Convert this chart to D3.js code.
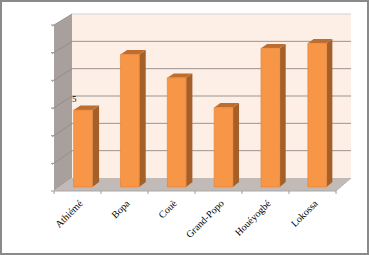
<!DOCTYPE html>
<html>
<head>
<meta charset="utf-8">
<script src="https://cdn.jsdelivr.net/npm/d3@7"></script>
<style>
  body { margin: 0; background: #fff; }
  svg { display: block; }
</style>
</head>
<body>
<div id="chart"></div>
<script>
const communes = ['Athiémé', 'Bopa', 'Couè', 'Grand-Popo', 'Houéyogbé', 'Lokossa'];
const values = [2.79, 4.81, 3.96, 2.88, 5.03, 5.21];
const yTicks = [0, 1, 2, 3, 4, 5, 6];

const w = 369,
      h = 255;

const svg = d3.select('#chart')
  .append('svg')
  .attr('width', w)
  .attr('height', h);

// back plane and front plane of the 3d box
const xBack = d3.scaleLinear().domain([0, communes.length]).range([72, 351]),
      xFront = d3.scaleLinear().domain([0, communes.length]).range([54, 336]),
      yBack = d3.scaleLinear().domain([0, 6]).range([178, 14]),
      yFront = d3.scaleLinear().domain([0, 6]).range([191, 25]);

// t = 0 back wall, t = 1 front edge
const px = (x, t) => xBack(x) + (xFront(x) - xBack(x)) * t,
      py = (v, t) => yBack(v) + (yFront(v) - yBack(v)) * t;
const pt = (x, v, t) => [px(x, t), py(v, t)];
const poly = pts => pts.map(p => p.join(',')).join(' ');

const n = communes.length;

svg.append('rect')
   .attr('x', 1).attr('y', 1)
   .attr('width', w - 2).attr('height', h - 2)
   .attr('fill', '#fff')
   .attr('stroke', '#8a8a8a')
   .attr('stroke-width', 2);

// back wall
svg.append('polygon')
   .attr('points', poly([pt(0, 0, 0), pt(n, 0, 0), pt(n, 6, 0), pt(0, 6, 0)]))
   .attr('fill', '#fdeee6');

// floor
svg.append('polygon')
   .attr('points', poly([pt(0, 0, 0), pt(n, 0, 0), pt(n, 0, 1), pt(0, 0, 1)]))
   .attr('fill', '#c2bab6');

// left wall
svg.append('polygon')
   .attr('points', poly([pt(0, 0, 0), pt(0, 6, 0), pt(0, 6, 1), pt(0, 0, 1)]))
   .attr('fill', '#a7a09c');

// gridlines
const grid = svg.append('g');
grid.selectAll('.gb')
    .data(yTicks.slice(1))
    .enter()
    .append('line')
    .attr('x1', px(0, 0)).attr('x2', px(n, 0))
    .attr('y1', d => py(d, 0)).attr('y2', d => py(d, 0))
    .attr('stroke', d => d === 6 ? '#cfcfcf' : '#9b9592')
    .attr('stroke-width', 1);

grid.selectAll('.gl')
    .data(yTicks.slice(1))
    .enter()
    .append('line')
    .attr('x1', px(0, 1) - 2).attr('x2', px(0, 0))
    .attr('y1', d => py(d, 1) + 1.2).attr('y2', d => py(d, 0))
    .attr('stroke', '#8f8985')
    .attr('stroke-width', 0.8);

// floor front edge + ticks
grid.append('line')
    .attr('x1', px(0, 1)).attr('x2', px(n, 1))
    .attr('y1', py(0, 1)).attr('y2', py(0, 1))
    .attr('stroke', '#a9a9a9');
grid.append('line')
    .attr('x1', px(n, 1)).attr('x2', px(n, 0))
    .attr('y1', py(0, 1)).attr('y2', py(0, 0))
    .attr('stroke', '#b5b5b5');
grid.selectAll('.tk')
    .data(d3.range(n + 1))
    .enter()
    .append('line')
    .attr('x1', d => px(d, 1)).attr('x2', d => px(d, 1))
    .attr('y1', py(0, 1)).attr('y2', py(0, 1) + 3)
    .attr('stroke', '#9a9a9a');
grid.selectAll('.tky')
    .data(yTicks)
    .enter()
    .append('line')
    .attr('x1', px(0, 1) - 3).attr('x2', px(0, 1))
    .attr('y1', d => py(d, 1)).attr('y2', d => py(d, 1))
    .attr('stroke', '#9a9a9a');

// bars
const tF = 0.69, tB = 0.31, b0 = 0.3, b1 = 0.7;
const bars = svg.selectAll('.bar')
  .data(values)
  .enter()
  .append('g');

bars.append('polygon')
    .attr('points', (d, i) => poly([pt(i + b1, 0, tF), pt(i + b1, 0, tB), pt(i + b1, d, tB), pt(i + b1, d, tF)]))
    .attr('fill', '#a55f29');
bars.append('polygon')
    .attr('points', (d, i) => poly([pt(i + b0, d, tF), pt(i + b1, d, tF), pt(i + b1, d, tB), pt(i + b0, d, tB)]))
    .attr('fill', '#bd6d30');
bars.append('polygon')
    .attr('points', (d, i) => poly([pt(i + b0, 0, tF), pt(i + b1, 0, tF), pt(i + b1, d, tF), pt(i + b0, d, tF)]))
    .attr('fill', '#f79646')
    .attr('stroke', '#e8853a')
    .attr('stroke-width', 0.7);

svg.append('text')
   .attr('x', 72)
   .attr('y', 102)
   .style('font-family', '"Liberation Serif", serif')
   .style('font-size', '9px')
   .text('5');

// category labels
svg.selectAll('.lbl')
   .data(communes)
   .enter()
   .append('text')
   .attr('transform', (d, i) => `translate(${px(i + 0.5, 1) + 6}, ${py(0, 1) + 13}) rotate(-45)`)
   .attr('text-anchor', 'end')
   .style('font-family', '"Liberation Serif", serif')
   .style('font-size', '10px')
   .text(d => d);
</script>
</body>
</html>
